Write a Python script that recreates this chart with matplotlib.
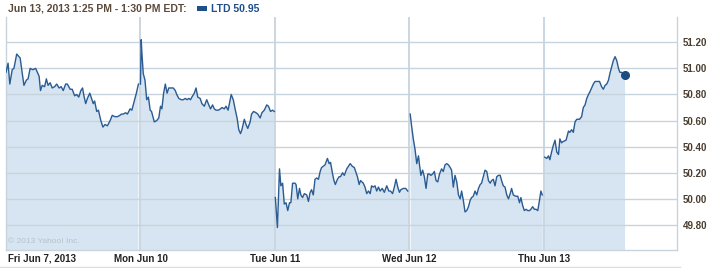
import numpy as np
import matplotlib
matplotlib.use("Agg")
import matplotlib.pyplot as plt
from matplotlib.lines import Line2D
from matplotlib.patches import Rectangle

# ── datos: minutos desde la apertura (9:30) y precio, por sesión ──
fri_min = [0, 6, 11, 18, 23, 31, 41, 52, 59, 64, 70, 78, 86, 96, 100, 105, 112, 117, 122, 128,
           134, 141, 147, 154, 160, 166, 173, 178, 186, 192, 199, 205, 211, 217, 222, 226, 231,
           236, 243, 248, 253, 257, 263, 268, 275, 281, 287, 294, 302, 308, 316, 323, 330, 335,
           340, 347, 352, 360, 365, 371, 378, 384]
fri_px = [50.97, 51.04, 50.88, 50.99, 51.00, 51.11, 51.08, 50.87, 50.91, 50.92, 51.00, 50.99,
          51.00, 50.94, 50.83, 50.87, 50.86, 50.92, 50.87, 50.89, 50.85, 50.86, 50.88, 50.85,
          50.86, 50.83, 50.88, 50.88, 50.84, 50.84, 50.79, 50.80, 50.78, 50.83, 50.85, 50.79,
          50.73, 50.77, 50.81, 50.77, 50.73, 50.75, 50.67, 50.68, 50.60, 50.55, 50.57, 50.56,
          50.60, 50.64, 50.63, 50.63, 50.64, 50.65, 50.65, 50.66, 50.65, 50.69, 50.68, 50.74,
          50.81, 50.88]

mon_min = [0, 2, 4, 8, 13, 18, 23, 28, 32, 40, 47, 53, 58, 62, 67, 72, 77, 82, 89, 95, 101,
           105, 111, 118, 124, 130, 135, 140, 145, 149, 156, 161, 166, 173, 178, 185, 192, 198,
           203, 209, 214, 219, 226, 232, 236, 243, 248, 254, 263, 269, 275, 280, 285, 290, 294,
           301, 306, 311, 318, 322, 328, 335, 340, 347, 352, 359, 366, 371, 377, 383, 388]
mon_px = [50.88, 51.22, 51.12, 50.96, 50.91, 50.76, 50.78, 50.68, 50.67, 50.59, 50.60, 50.62,
          50.71, 50.69, 50.81, 50.88, 50.81, 50.85, 50.85, 50.85, 50.83, 50.80, 50.77, 50.76,
          50.76, 50.77, 50.76, 50.77, 50.76, 50.78, 50.81, 50.85, 50.78, 50.77, 50.73, 50.71,
          50.76, 50.72, 50.69, 50.72, 50.69, 50.68, 50.68, 50.69, 50.70, 50.69, 50.71, 50.68,
          50.80, 50.76, 50.68, 50.62, 50.53, 50.50, 50.53, 50.61, 50.57, 50.54, 50.59, 50.65,
          50.67, 50.66, 50.65, 50.62, 50.66, 50.68, 50.72, 50.71, 50.67, 50.68, 50.67]

tue_min = [1, 7, 13, 17, 22, 27, 32, 37, 42, 46, 51, 58, 61, 66, 71, 75, 80, 85, 92, 97, 102,
           106, 111, 116, 121, 126, 131, 135, 140, 145, 152, 157, 161, 167, 171, 175, 181, 186,
           190, 196, 201, 208, 213, 218, 224, 230, 239, 244, 248, 256, 261, 266, 271, 276, 280,
           285, 290, 295, 300, 305, 311, 317, 324, 330, 335, 341, 346, 351, 356, 361, 365, 372,
           379, 385]
tue_px = [50.01, 49.78, 50.23, 50.10, 50.12, 49.96, 49.97, 49.91, 49.97, 49.97, 50.12, 50.12,
          50.11, 50.00, 50.08, 50.03, 50.01, 50.04, 50.03, 49.98, 50.05, 50.07, 50.03, 50.15,
          50.16, 50.15, 50.21, 50.24, 50.25, 50.26, 50.31, 50.27, 50.28, 50.19, 50.14, 50.11,
          50.15, 50.17, 50.17, 50.20, 50.18, 50.23, 50.25, 50.27, 50.25, 50.24, 50.17, 50.11,
          50.14, 50.12, 50.09, 50.04, 50.06, 50.04, 50.10, 50.09, 50.10, 50.06, 50.09, 50.06,
          50.08, 50.05, 50.10, 50.06, 50.06, 50.04, 50.09, 50.15, 50.09, 50.05, 50.07, 50.08,
          50.08, 50.06]

wed_min = [2, 6, 11, 16, 21, 26, 29, 33, 38, 43, 48, 53, 58, 62, 67, 72, 77, 82, 87, 93, 98,
           103, 108, 113, 118, 122, 127, 132, 137, 142, 147, 151, 156, 161, 166, 171, 176, 180,
           185, 190, 195, 200, 205, 209, 214, 219, 224, 229, 234, 238, 243, 248, 253, 258, 263,
           267, 272, 277, 282, 287, 292, 296, 301, 308, 314, 319, 323, 328, 333, 338, 343, 348,
           352, 357, 362, 367, 372, 377, 381, 385]
wed_px = [50.65, 50.56, 50.46, 50.38, 50.27, 50.33, 50.26, 50.18, 50.22, 50.17, 50.08, 50.19,
          50.19, 50.18, 50.19, 50.21, 50.14, 50.13, 50.19, 50.23, 50.21, 50.26, 50.27, 50.26,
          50.24, 50.22, 50.09, 50.18, 50.13, 50.03, 50.00, 50.06, 49.99, 49.90, 49.91, 49.94,
          49.99, 50.01, 50.02, 50.06, 50.03, 50.08, 50.11, 50.12, 50.17, 50.22, 50.21, 50.14,
          50.12, 50.14, 50.15, 50.10, 50.17, 50.18, 50.18, 50.14, 50.10, 50.09, 50.03, 50.00,
          50.04, 50.08, 50.03, 50.02, 50.02, 49.97, 50.01, 49.95, 49.91, 49.92, 49.91, 49.91,
          49.92, 49.94, 49.92, 49.92, 49.91, 49.99, 50.06, 50.03]

thu_min = [2, 8, 13, 17, 22, 27, 32, 37, 42, 46, 51, 56, 64, 71, 75, 80, 85, 90, 95, 103, 109,
           114, 119, 124, 129, 133, 138, 143, 148, 155, 161, 167, 172, 177, 182, 187, 191, 196,
           201, 206, 211, 216, 220, 225, 235]
thu_px = [50.32, 50.31, 50.33, 50.30, 50.36, 50.41, 50.45, 50.36, 50.34, 50.46, 50.43, 50.44,
          50.45, 50.52, 50.51, 50.53, 50.51, 50.59, 50.61, 50.61, 50.63, 50.70, 50.72, 50.77,
          50.80, 50.82, 50.85, 50.88, 50.90, 50.90, 50.90, 50.86, 50.84, 50.87, 50.88, 50.91,
          50.96, 51.01, 51.06, 51.09, 51.06, 51.00, 50.97, 50.97, 50.95]

sessions = [(fri_min, fri_px), (mon_min, mon_px), (tue_min, tue_px),
            (wed_min, wed_px), (thu_min, thu_px)]
day_labels = ["Fri Jun 7, 2013", "Mon Jun 10", "Tue Jun 11", "Wed Jun 12", "Thu Jun 13"]
y_ticks = [49.80, 50.00, 50.20, 50.40, 50.60, 50.80, 51.00, 51.20]
SESSION_LEN = 390
last_price = 50.95

# ── estilo ──
line_col = "#2a5b92"
fill_col = "#d6e5f1"
grid_col = "#c7d4de"
axis_txt = "#4a3d30"
W, H = 712, 268

fig = plt.figure(figsize=(W / 100, H / 100), dpi=100, facecolor="white")
ax = fig.add_axes([6 / W, (H - 250) / H, (677 - 6) / W, (250 - 17) / H])
ax.set_facecolor("white")

for d, (mins, px) in enumerate(sessions):
    x = d * SESSION_LEN + np.array(mins)
    ax.fill_between(x, px, 49.0, color=fill_col, lw=0, zorder=1)
    ax.plot(x, px, color=line_col, lw=1.0, zorder=4, solid_joinstyle="round")

# punto final
ax.plot(4 * SESSION_LEN + thu_min[-1], thu_px[-1], "o", color="#1d4c80",
        ms=5.5, zorder=5)

for yv in y_ticks:
    ax.axhline(yv, color=grid_col, lw=1.0, zorder=2)
for d in range(1, 5):
    ax.axvline(d * SESSION_LEN, color=grid_col, lw=1.3, zorder=3)

ax.set_xlim(0, 671 / 134.5 * SESSION_LEN)
ax.set_ylim(49.608, 51.394)

ax.set_xticks([])
ax.set_yticks(y_ticks)
ax.yaxis.tick_right()
ax.set_yticklabels([f"{v:.2f}" for v in y_ticks], fontfamily="Liberation Sans",
                   fontweight="bold", fontsize=7, color=axis_txt)
ax.tick_params(axis="y", length=0, pad=4)
ax.spines["top"].set_visible(False)
for s in ["left", "right", "bottom"]:
    ax.spines[s].set_color(grid_col)
    ax.spines[s].set_linewidth(1.0)

# etiquetas de días
for d, lab in enumerate(day_labels):
    xpos = d * SESSION_LEN
    ha = "left" if d == 0 else "center"
    if d == 0:
        xpos += 5
    ax.text(xpos, -8.5 / 233, lab, transform=ax.get_xaxis_transform(), ha=ha, va="center",
            fontfamily="Liberation Sans", fontweight="bold", fontsize=7, color="#222222")

ax.text(6, 49.66, "© 2013 Yahoo! Inc.", fontfamily="Liberation Sans", fontsize=6,
        color="#b5c2cc", zorder=6)

# cabecera
fig.text(8 / W, 1 - 8.5 / H, "Jun 13, 2013 1:25 PM - 1:30 PM EDT:", ha="left", va="center",
         fontfamily="Liberation Sans", fontweight="bold", fontsize=7.5, color="#5a4a3a")
fig.add_artist(Rectangle((197 / W, 1 - 10.5 / H), 10 / W, 4 / H, transform=fig.transFigure,
                         color="#1f4e89", lw=0))
fig.text(211 / W, 1 - 8.5 / H, f"LTD {last_price:.2f}", ha="left", va="center",
         fontfamily="Liberation Sans", fontweight="bold", fontsize=7.5, color="#1f4e89")

# línea inferior
fig.add_artist(Line2D([0, 680 / W], [1 - 266.5 / H] * 2, transform=fig.transFigure,
                      color="#dddddd", lw=1.0))

fig.savefig("out.png", dpi=100, facecolor="white")
